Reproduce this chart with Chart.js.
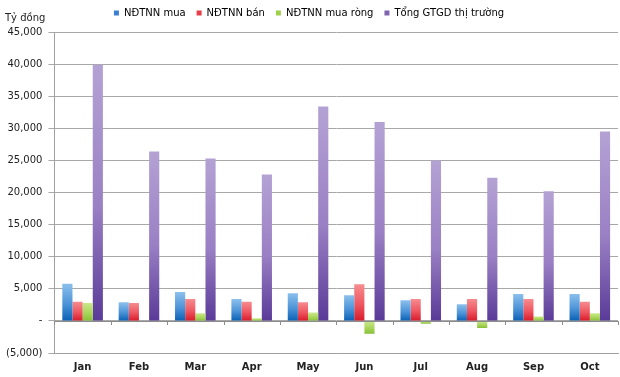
<!DOCTYPE html>
<html lang="vi">
<head>
  <meta charset="UTF-8" />
  <title>NĐTNN - GTGD</title>
  <script src="https://cdn.jsdelivr.net/npm/chart.js"></script>
  <style>
    body {
      margin: 0;
      padding: 0;
      background: #ffffff;
      font-family: "DejaVu Sans", sans-serif;
    }

    .wrap {
      position: relative;
      width: 620px;
      height: 377px;
    }

    .unit {
      position: absolute;
      left: 5px;
      top: 12px;
      font-size: 10px;
      color: #222;
    }
  </style>
</head>
<body>
  <div class="wrap">
    <div class="unit">Tỷ đồng</div>
    <canvas id="chart" width="620" height="377"></canvas>
  </div>

  <script>
    const thang = ['Jan', 'Feb', 'Mar', 'Apr', 'May', 'Jun', 'Jul', 'Aug', 'Sep', 'Oct'];
    const mua = [5800, 2900, 4500, 3400, 4300, 4000, 3200, 2600, 4200, 4200];
    const ban = [3000, 2800, 3400, 3000, 2900, 5700, 3400, 3400, 3400, 3000];
    const muaRong = [2800, -150, 1200, 400, 1300, -2000, -450, -1100, 700, 1200];
    const tongGTGD = [39900, 26400, 25300, 22800, 33400, 31000, 25000, 22300, 20200, 29500];

    // gradient doc cho tung cot: sang o tren, dam o duoi
    function cot(top, mid, bottom) {
      return function (c) {
        const y = c.chart.scales && c.chart.scales.y;
        if (!y || c.raw === undefined || !isFinite(y.top) || y.bottom - y.top < 10) return bottom;
        const a = y.getPixelForValue(c.raw), b = y.getPixelForValue(0);
        const y0 = Math.min(a, b), y1 = Math.max(a, b);
        if (!isFinite(y0) || y1 - y0 < 1) return bottom;
        const g = c.chart.ctx.createLinearGradient(0, y0, 0, y1);
        g.addColorStop(0, top);
        g.addColorStop(0.55, mid);
        g.addColorStop(1, bottom);
        return g;
      };
    }

    // chua them cho legend, day vung ve xuong
    const legendCao = {
      id: 'legendCao',
      beforeInit(chart) {
        const fit = chart.legend.fit;
        chart.legend.fit = function () {
          fit.call(this);
          this.height += 4;
        };
      }
    };

    // duong truc 0 va vach chia
    const vachTruc0 = {
      id: 'vachTruc0',
      afterDatasetsDraw(chart) {
        const { ctx, scales: { x, y } } = chart;
        const y0 = Math.round(y.getPixelForValue(0));
        ctx.save();
        ctx.strokeStyle = '#8c8c8c';
        ctx.lineWidth = 1;
        ctx.beginPath();
        ctx.moveTo(x.left, y0 + 0.5);
        ctx.lineTo(x.right, y0 + 0.5);
        for (let i = 0; i <= thang.length; i++) {
          const px = Math.round(x.left + (x.right - x.left) * i / thang.length) + 0.5;
          ctx.moveTo(px, y0);
          ctx.lineTo(px, y0 + 4);
        }
        ctx.stroke();
        ctx.restore();
      }
    };

    const ctx = document.getElementById('chart').getContext('2d');
    new Chart(ctx, {
      type: 'bar',
      data: {
        labels: thang,
        datasets: [
          { label: 'NĐTNN mua', data: mua, backgroundColor: cot('#8cc0ec', '#4b93d8', '#0a60b4') },
          { label: 'NĐTNN bán', data: ban, backgroundColor: cot('#f68c90', '#ee5660', '#d81a2a') },
          { label: 'NĐTNN mua ròng', data: muaRong, backgroundColor: cot('#cae88c', '#aad65c', '#86c036') },
          { label: 'Tổng GTGD thị trường', data: tongGTGD, backgroundColor: cot('#b4a2d4', '#9a80c4', '#5a3a98') }
        ]
      },
      options: {
        responsive: false,
        animation: false,
        layout: { padding: { left: 0, right: 2, top: -3, bottom: -4 } },
        datasets: {
          bar: { categoryPercentage: 0.72, barPercentage: 1.0 }
        },
        plugins: {
          legend: {
            position: 'top',
            labels: {
              boxWidth: 5,
              boxHeight: 5,
              padding: 11,
              color: '#222',
              font: { family: 'DejaVu Sans', size: 10 },
              generateLabels(chart) {
                const mau = ['#3c7fcf', '#e83c48', '#9fd04c', '#8064b0'];
                return chart.data.datasets.map((d, i) => ({
                  text: d.label,
                  fillStyle: mau[i],
                  strokeStyle: mau[i],
                  lineWidth: 0,
                  datasetIndex: i
                }));
              }
            }
          },
          tooltip: { enabled: false }
        },
        scales: {
          x: {
            grid: { display: false, drawTicks: false },
            border: { display: true, color: '#a0a0a0' },
            ticks: {
              color: '#222',
              padding: 8,
              font: { family: 'DejaVu Sans', size: 10, weight: 'bold' }
            }
          },
          y: {
            min: -5000,
            max: 45000,
            ticks: {
              stepSize: 5000,
              color: '#222',
              padding: 6,
              font: { family: 'DejaVu Sans', size: 10 },
              callback(v) {
                if (v === 0) return '-';
                if (v < 0) return '(' + Math.abs(v).toLocaleString('en-US') + ')';
                return v.toLocaleString('en-US');
              }
            },
            grid: { color: '#a8a8a8', lineWidth: 1, tickLength: 6, drawTicks: true },
            border: { display: true, color: '#a0a0a0' }
          }
        }
      },
      plugins: [legendCao, vachTruc0]
    });
  </script>
</body>
</html>
